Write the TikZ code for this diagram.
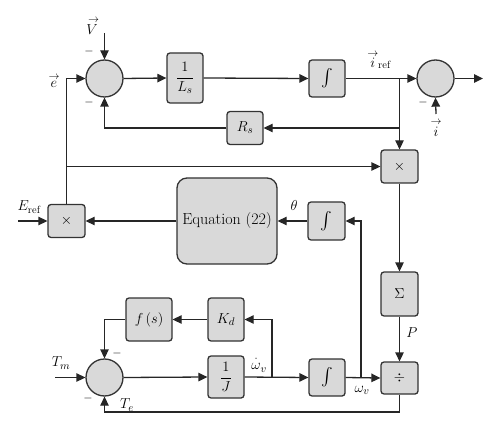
\documentclass[tikz,border=0pt]{standalone}
\usepackage{fontspec}
\usepackage{graphicx}
\usetikzlibrary{arrows.meta}
\newcommand{\intsym}{\raisebox{-0.5ex}{\resizebox{!}{16pt}{$\int$}}}
\newcommand{\vecar}[1]{\stackrel{\rightarrow}{#1}}
\begin{document}
\begin{tikzpicture}[x=1pt,y=-1pt,
  line width=1.3pt,
  every node/.style={font=\fontsize{15}{18}\selectfont},
  blk/.style={draw=black!80, fill=gray!30, rounded corners=3pt, inner sep=0pt, minimum width=36pt, minimum height=37pt},
  sumc/.style={draw=black!80, fill=gray!30, circle, inner sep=0pt, minimum size=37pt},
  arr/.style={draw=black!85, -{Triangle[length=9pt,width=8.5pt]}},
  lab/.style={inner sep=1pt},
  mn/.style={inner sep=0pt, font=\fontsize{12}{14}\selectfont}]
\useasboundingbox (0,0) rectangle (500,430);
% nodes
\node[sumc] (s1) at (104.5,78.5) {};
\node[blk, minimum height=50pt] (Ls) at (185,78) {$\displaystyle\frac{1}{L_s}$};
\node[blk] (i1) at (327,78.5) {\intsym};
\node[sumc] (s2) at (435.5,78.5) {};
\node[blk, minimum height=33pt] (Rs) at (245,128) {$R_s$};
\node[blk, minimum width=37pt, minimum height=33pt] (xr) at (399.5,166.5) {$\times$};
\node[blk, minimum width=37pt, minimum height=33pt] (xl) at (66.5,221) {$\times$};
\node[blk, minimum width=100pt, minimum height=86pt, rounded corners=10pt, font=\fontsize{16}{18}\selectfont] (eq) at (227,221) {Equation (22)};
\node[blk, minimum width=37pt, minimum height=38pt] (ith) at (326.5,221) {\intsym};
\node[blk, minimum width=37pt, minimum height=44pt] (sig) at (399.5,294) {$\Sigma$};
\node[blk, minimum width=37pt, minimum height=32pt] (dv) at (399.5,378) {$\div$};
\node[blk] (iw) at (327,377.5) {\intsym};
\node[blk, minimum width=46pt, minimum height=43pt] (fs) at (149,319.5) {$f\,(s)$};
\node[blk, minimum height=43pt] (Kd) at (226,319.5) {$K_d$};
\node[blk, minimum height=42pt] (J) at (226,377) {$\displaystyle\frac{1}{J}$};
\node[sumc] (s3) at (104.5,377.5) {};
% labels
\node[lab] (V) at (92,26) {$\vecar{V}$};
\node[lab] (e) at (54,81) {$\vecar{e}$};
\node[lab] (iref) at (379,60) {$\vecar{i}_{\mathrm{ref}}$};
\node[lab] (ilab) at (436,128) {$\vecar{i}$};
\node[lab] (Eref) at (29,207) {$E_{\mathrm{ref}}$};
\node[lab] (th) at (294,206) {$\theta$};
\node[lab] (P) at (412,333) {$P$};
\node[lab] (wv) at (362,390) {$\omega_v$};
\node[lab, anchor=south] (wd) at (259,374) {$\stackrel{\cdot}{\omega}_v$};
\node[lab] (Tm) at (61,363) {$T_m$};
\node[lab] (Te) at (127,405) {$T_e$};
\node[mn] (m1) at (89,52) {$-$};
\node[mn] (m2) at (89,103) {$-$};
\node[mn] (m3) at (423,103) {$-$};
\node[mn] (m4) at (117,353) {$-$};
\node[mn] (m5) at (88,398) {$-$};
% coordinates
\coordinate (Vs) at (104.5,33);
\coordinate (out) at (483,78.5);
\coordinate (Es) at (18,221);
\coordinate (Ts) at (55,377.5);
\coordinate (is) at (436,114);
\coordinate (j1) at (399.5,78.5);
\coordinate (jw) at (361,377.5);
\coordinate (jk) at (272,377.5);
\coordinate (bot) at (399.5,412);
% connectors
\draw[arr] (Vs) -- (s1.north);
\draw[arr] (xl.north) |- (s1.west);
\draw[arr] (xl.north |- xr.west) -- (xr.west);
\draw[arr] (s1.east) -- (Ls.west);
\draw[arr] (Ls.east) -- (i1.west);
\draw[arr] (i1.east) -- (s2.west);
\draw[arr] (j1) -- (xr.north);
\draw[arr] (j1 |- Rs.east) -- (Rs.east);
\draw[arr] (Rs.west) -| (s1.south);
\draw[arr] (is) -- (s2.south);
\draw[arr] (s2.east) -- (out);
\draw[arr] (Es) -- (xl.west);
\draw[arr] (eq.west) -- (xl.east);
\draw[arr] (ith.west) -- (eq.east);
\draw[arr] (jw) |- (ith.east);
\draw[arr] (xr.south) -- (sig.north);
\draw[arr] (sig.south) -- (dv.north);
\draw[arr] (iw.east) -- (dv.west);
\draw[arr] (dv.south) -- (bot) -| (s3.south);
\draw[arr] (Ts) -- (s3.west);
\draw[arr] (s3.east) -- (J.west);
\draw[arr] (J.east) -- (iw.west);
\draw[arr] (jk) |- (Kd.east);
\draw[arr] (Kd.west) -- (fs.east);
\draw[arr] (fs.west) -| (s3.north);
\end{tikzpicture}
\end{document}
